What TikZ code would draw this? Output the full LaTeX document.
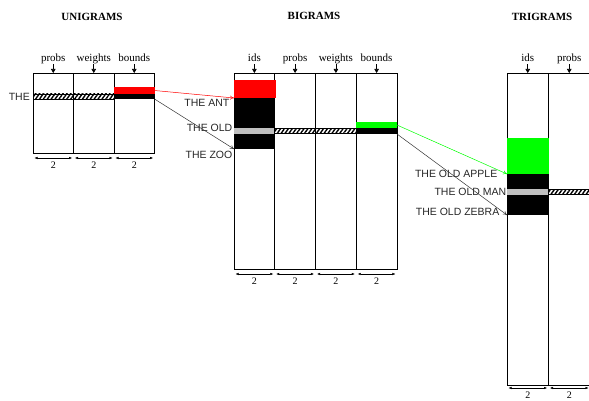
\documentclass[tikz,border=0pt]{standalone}
\usepackage{fontspec}
\setmainfont{Liberation Serif}
\newfontfamily\arialfont{Liberation Sans}
\usepackage{tikz}
\usetikzlibrary{positioning,arrows.meta,patterns.meta}
\definecolor{idgray}{HTML}{C0C0C0}
\definecolor{bndgreen}{HTML}{00FF00}
\definecolor{bndred}{HTML}{FF0000}

\begin{document}
\begin{tikzpicture}[x=1pt,y=-1pt,
    col/.style={draw, line width=0.8pt, inner sep=0pt, outer sep=0pt},
    blk/.style={fill=black, inner sep=0pt, outer sep=0pt},
    hatch/.style={draw, line width=0.6pt, inner sep=0pt, outer sep=0pt,
      pattern={Lines[angle=55,distance=3.2pt,line width=1.4pt]}},
    hdr/.style={font=\fontsize{11}{13}\selectfont, inner sep=1pt,
      text height=7.5pt, text depth=2.2pt},
    hdrarr/.style={-{Triangle[length=4pt,width=4.5pt]}, line width=0.6pt},
    ttl/.style={font=\fontsize{11}{13}\selectfont\bfseries},
    lbl/.style={font=\arialfont\fontsize{10.5}{12}\selectfont,
      text=black!85, inner sep=1pt, anchor=east},
    dimline/.style={{Latex[length=3pt,width=2.5pt]}-{Latex[length=3pt,width=2.5pt]},
      line width=0.4pt},
    dimlbl/.style={font=\fontsize{10}{12}\selectfont, midway, below=0.5pt},
    link/.style={-{To[length=4pt,width=4pt]}, line width=0.5pt}]
    \useasboundingbox (0,0) rectangle (589,401);

    % unigrams
    \node[ttl] (uttl) at (92,17) {UNIGRAMS};
    \node[col, minimum width=40.5pt, minimum height=80pt] (u1) at (53.25,113) {};
    \node[col, minimum width=40.5pt, minimum height=80pt] (u2) at (93.75,113) {};
    \node[col, minimum width=40.5pt, minimum height=80pt] (u3) at (134.25,113) {};
    \node[hdr, above=8.5pt of u1] (u1h) {probs};
    \node[hdr, above=8.5pt of u2] (u2h) {weights};
    \node[hdr, above=8.5pt of u3] (u3h) {bounds};
    \draw[hdrarr] (u1h) -- (u1);
    \draw[hdrarr] (u2h) -- (u2);
    \draw[hdrarr] (u3h) -- (u3);

    \node[hatch, minimum width=81pt, minimum height=5pt] (uhatch) at (73.5,96.5) {};
    \node[blk, fill=bndred, minimum width=40.5pt, minimum height=7pt] (ured) at (134.25,90.5) {};
    \node[blk, minimum width=40.5pt, minimum height=5pt] (ublk) at (134.25,96.5) {};
    \node[lbl, left=2pt of uhatch] (uthe) {THE};

    \draw[dimline] ([xshift=1.5pt,yshift=-5pt]u1.south west) -- ([xshift=-1.5pt,yshift=-5pt]u1.south east) node[dimlbl] {2};
    \draw[dimline] ([xshift=1.5pt,yshift=-5pt]u2.south west) -- ([xshift=-1.5pt,yshift=-5pt]u2.south east) node[dimlbl] {2};
    \draw[dimline] ([xshift=1.5pt,yshift=-5pt]u3.south west) -- ([xshift=-1.5pt,yshift=-5pt]u3.south east) node[dimlbl] {2};

    % bigrams
    \node[ttl] (bttl) at (314,16) {BIGRAMS};
    \node[col, minimum width=40.75pt, minimum height=196pt] (b1) at (254.4,171) {};
    \node[col, minimum width=40.75pt, minimum height=196pt] (b2) at (295.1,171) {};
    \node[col, minimum width=40.75pt, minimum height=196pt] (b3) at (335.9,171) {};
    \node[col, minimum width=40.75pt, minimum height=196pt] (b4) at (376.6,171) {};
    \node[hdr, above=8.5pt of b1] (b1h) {ids};
    \node[hdr, above=8.5pt of b2] (b2h) {probs};
    \node[hdr, above=8.5pt of b3] (b3h) {weights};
    \node[hdr, above=8.5pt of b4] (b4h) {bounds};
    \draw[hdrarr] (b1h) -- (b1);
    \draw[hdrarr] (b2h) -- (b2);
    \draw[hdrarr] (b3h) -- (b3);
    \draw[hdrarr] (b4h) -- (b4);

    \node[blk, fill=bndred, minimum width=42pt, minimum height=18pt] (bred) at (255,89) {};
    \node[blk, minimum width=40.75pt, minimum height=30pt] (bblk1) at (254.4,113) {};
    \node[blk, fill=idgray, minimum width=40.75pt, minimum height=6pt] (bgray) at (254.4,131) {};
    \node[blk, minimum width=40.75pt, minimum height=15pt] (bblk2) at (254.4,141.5) {};
    \node[hatch, minimum width=81.5pt, minimum height=5pt] (bhatch) at (315.5,131) {};
    \node[blk, fill=bndgreen, minimum width=40.75pt, minimum height=6pt] (bgrn) at (376.6,125) {};
    \node[blk, minimum width=40.75pt, minimum height=6pt] (bblk3) at (376.6,131) {};
    \node[lbl] (bant) at (230.5,103) {THE ANT};
    \node[lbl] (bold) at (233.5,128) {THE OLD};
    \node[lbl] (bzoo) at (233.5,155) {THE ZOO};

    \draw[dimline] ([xshift=1.5pt,yshift=-5pt]b1.south west) -- ([xshift=-1.5pt,yshift=-5pt]b1.south east) node[dimlbl] {2};
    \draw[dimline] ([xshift=1.5pt,yshift=-5pt]b2.south west) -- ([xshift=-1.5pt,yshift=-5pt]b2.south east) node[dimlbl] {2};
    \draw[dimline] ([xshift=1.5pt,yshift=-5pt]b3.south west) -- ([xshift=-1.5pt,yshift=-5pt]b3.south east) node[dimlbl] {2};
    \draw[dimline] ([xshift=1.5pt,yshift=-5pt]b4.south west) -- ([xshift=-1.5pt,yshift=-5pt]b4.south east) node[dimlbl] {2};

    % trigrams
    \node[ttl] (tttl) at (542,17) {TRIGRAMS};
    \node[col, minimum width=41.5pt, minimum height=312pt] (t1) at (527.75,229) {};
    \node[col, minimum width=41.5pt, minimum height=312pt] (t2) at (569.25,229) {};
    \node[hdr, above=8.5pt of t1] (t1h) {ids};
    \node[hdr, above=8.5pt of t2] (t2h) {probs};
    \draw[hdrarr] (t1h) -- (t1);
    \draw[hdrarr] (t2h) -- (t2);

    \node[blk, fill=bndgreen, minimum width=41.5pt, minimum height=36pt] (tgrn) at (527.75,156) {};
    \node[blk, minimum width=41.5pt, minimum height=15pt] (tblk1) at (527.75,181.5) {};
    \node[blk, fill=idgray, minimum width=41.5pt, minimum height=6pt] (tgray) at (527.75,192) {};
    \node[blk, minimum width=41.5pt, minimum height=20pt] (tblk2) at (527.75,205) {};
    \node[hatch, minimum width=41.5pt, minimum height=5pt] (thatch) at (569.25,192) {};
    \node[lbl] (tapple) at (498.5,174) {THE OLD APPLE};
    \node[lbl] (tman) at (507.5,192) {THE OLD MAN};
    \node[lbl] (tzebra) at (500.5,212) {THE OLD ZEBRA};

    \draw[dimline] ([xshift=1.5pt,yshift=-3pt]t1.south west) -- ([xshift=-1.5pt,yshift=-3pt]t1.south east) node[dimlbl, below=0pt] {2};
    \draw[dimline] ([xshift=1.5pt,yshift=-3pt]t2.south west) -- ([xshift=-1.5pt,yshift=-3pt]t2.south east) node[dimlbl, below=0pt] {2};

    % links between levels
    \draw[link, bndred] (ured.east) -- (bred.south west);
    \draw[link, black!80] (ublk.south east) -- (bblk2.south west);
    \draw[link, bndgreen] (bgrn.east) -- (tgrn.south west);
    \draw[link, black!80] (bblk3.south east) -- (tblk2.south west);
\end{tikzpicture}
\end{document}
